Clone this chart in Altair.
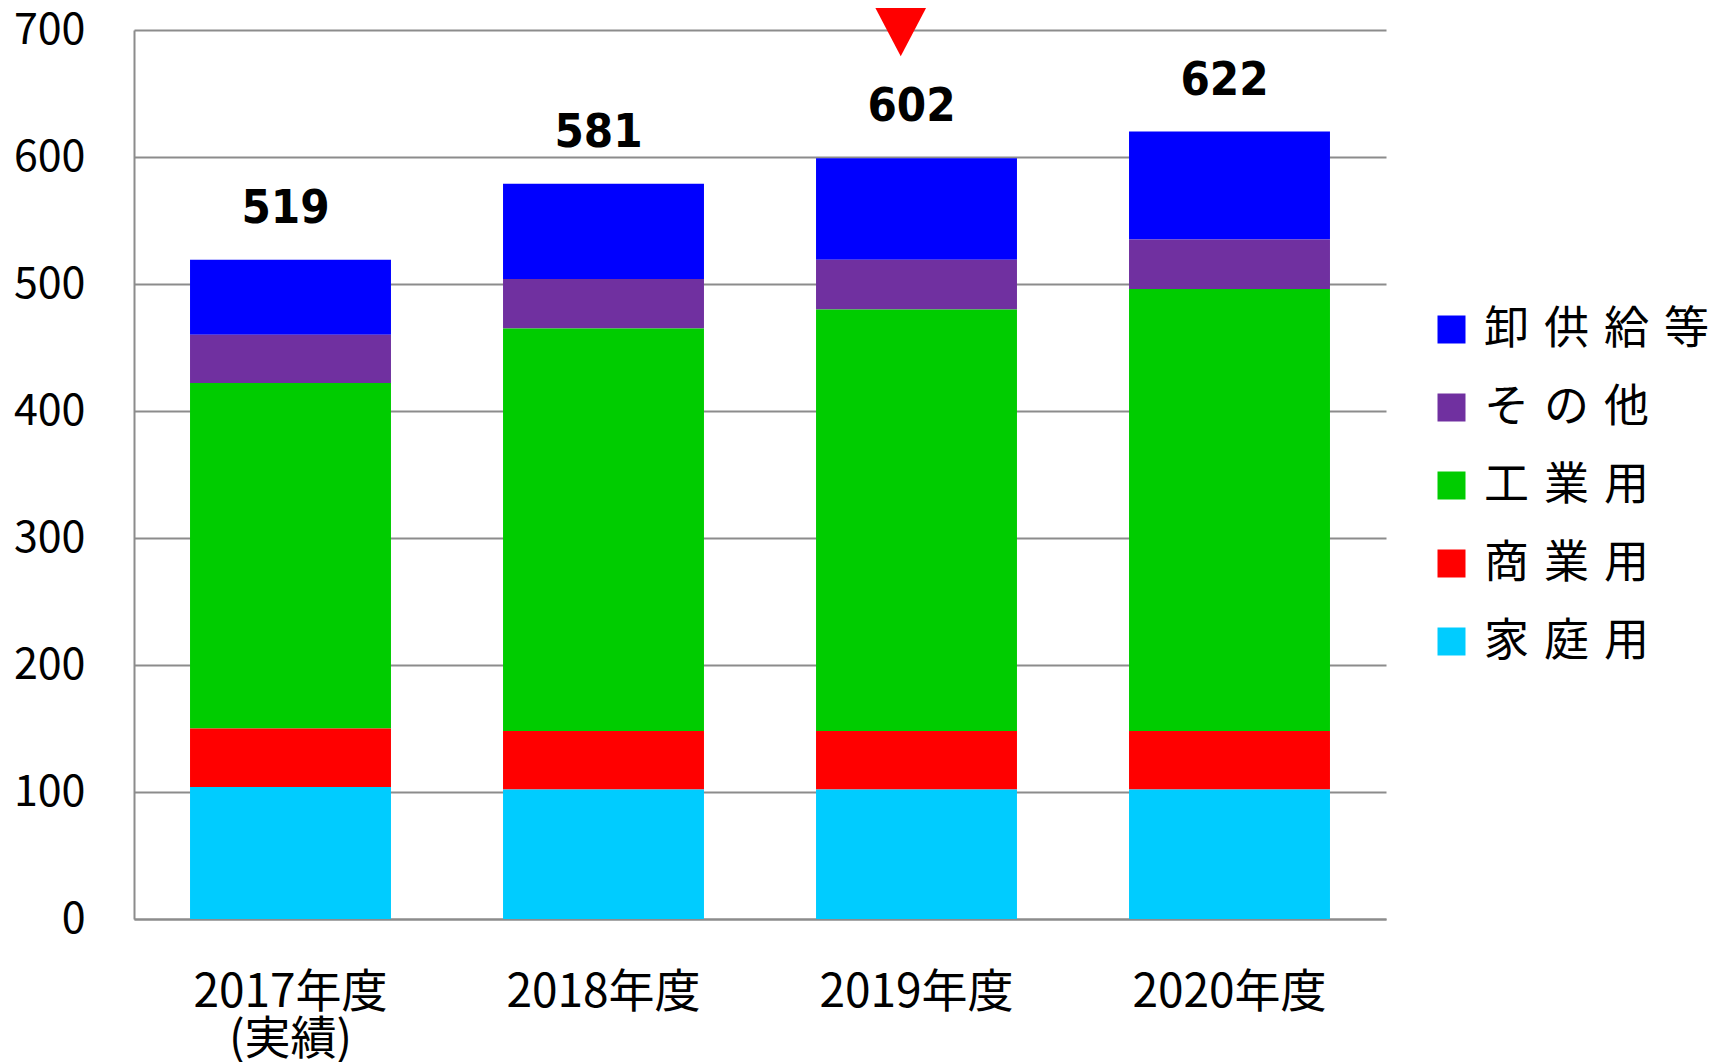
import altair as alt
import pandas as pd

# ---- data ----
categories = ["2017年度", "2018年度", "2019年度", "2020年度"]
category_sublabels = ["(実績)", "", "", ""]

# legend order (top to bottom); stacked from the bottom in reverse
series = ["卸\u2004供\u2004給\u2004等", "そ\u2004の\u2004他", "工\u2004業\u2004用", "商\u2004業\u2004用", "家\u2004庭\u2004用"]
colors = ["#0000FF", "#7030A0", "#00CC00", "#FF0000", "#00CCFF"]

wholesale = [59, 75, 80, 85]        # 卸供給等
other = [38, 39, 39, 39]            # その他
industrial = [272, 317, 332, 348]   # 工業用
commercial = [46, 46, 46, 46]       # 商業用
residential = [104, 102, 102, 102]  # 家庭用

total_labels = [519, 581, 602, 622]
y_ticks = [0, 100, 200, 300, 400, 500, 600, 700]
marker_category = "2019年度"

# ---- build tables ----
series_values = [wholesale, other, industrial, commercial, residential]
rows = []
for s_idx, (name, vals) in enumerate(zip(series, series_values)):
    for c, v in zip(categories, vals):
        rows.append({"category": c, "series": name, "value": v,
                     "stack_order": len(series) - s_idx})
df = pd.DataFrame(rows)

tops = [sum(v[i] for v in series_values) for i in range(len(categories))]
totals_df = pd.DataFrame({"category": categories, "top": tops,
                          "label": [str(t) for t in total_labels]})
marker_df = pd.DataFrame({"category": [marker_category], "level": [y_ticks[-1]]})

parts = [f"datum.label === '{c}' ? ['{c}', '{s}']"
         for c, s in zip(categories, category_sublabels) if s]
label_expr = " : ".join(parts) + " : datum.label"

JP = "Noto Sans CJK JP"
GRAY = "#8c8c8c"

x_enc = alt.X(
    "category:N", sort=categories,
    scale=alt.Scale(paddingInner=0.358, paddingOuter=0.179),
    axis=alt.Axis(title=None, labelAngle=0, ticks=False, tickSize=0,
                  labelPadding=51, labelFontSize=46, labelFont=JP,
                  labelColor="#000000", labelLineHeight=47,
                  labelExpr=label_expr, domainColor=GRAY, domainWidth=2,
                  labelLimit=0),
)
y_scale = alt.Scale(domain=[0, 700], nice=False, zero=True)

bars = alt.Chart(df).mark_bar(strokeWidth=0).encode(
    x=x_enc,
    y=alt.Y("value:Q", stack="zero", scale=y_scale,
            axis=alt.Axis(values=y_ticks, title=None, ticks=False, tickSize=0,
                          labelPadding=49, labelFontSize=43, labelFont=JP,
                          labelColor="#000000", domain=True, domainColor=GRAY,
                          domainWidth=2, grid=True, gridColor=GRAY, gridWidth=2)),
    color=alt.Color("series:N", scale=alt.Scale(domain=series, range=colors),
                    legend=alt.Legend(title=None, orient="none", legendX=1295,
                                      legendY=277, symbolType="square",
                                      symbolSize=784, symbolStrokeWidth=0,
                                      symbolOpacity=1, labelFontSize=45,
                                      labelFont=JP, labelColor="#000000",
                                      labelOffset=10, rowPadding=32,
                                      labelLimit=600, padding=0)),
    order=alt.Order("stack_order:Q", sort="ascending"),
)

labels = alt.Chart(totals_df).mark_text(
    font="Liberation Sans Narrow, DejaVu Sans Condensed, Arial, sans-serif",
    fontSize=47, fontWeight="bold", baseline="middle", dy=-51, dx=-5,
    color="#000000",
).encode(
    x=alt.X("category:N", sort=categories),
    y=alt.Y("top:Q", scale=y_scale),
    text="label:N",
)

marker = alt.Chart(marker_df).mark_point(
    shape="M-1.544,-1L0.456,-1L-0.544,0.907Z", size=3364, filled=True,
    color="#FF0000", opacity=1, strokeWidth=0,
).encode(
    x=alt.X("category:N", sort=categories),
    y=alt.Y("level:Q", scale=y_scale),
)

chart = alt.layer(bars, labels, marker).properties(
    width=1252, height=889,
    autosize=alt.AutoSizeParams(type="none"),
    padding={"left": 126, "top": 22, "right": 329, "bottom": 143},
    background="white",
).configure_view(stroke=None)

chart.save("out.html", embed_options={"renderer": "svg", "actions": False})
